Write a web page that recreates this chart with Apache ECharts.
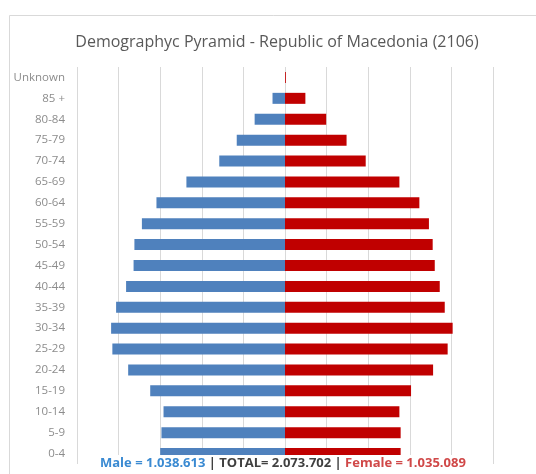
<!DOCTYPE html>
<html>
<head>
<meta charset="utf-8">
<script src="https://cdn.jsdelivr.net/npm/echarts@6/dist/echarts.min.js"></script>
<style>
  html, body { margin: 0; padding: 0; background: #fff; }
  #chart { width: 536px; height: 474px; }
</style>
</head>
<body>
<div id="chart"></div>
<script>
// age groups, top of the pyramid first
const ageGroups = ['Unknown', '85 +', '80-84', '75-79', '70-74', '65-69', '60-64', '55-59', '50-54',
  '45-49', '40-44', '35-39', '30-34', '25-29', '20-24', '15-19', '10-14', '5-9', '0-4'];

// population in thousands
const male = [0, 6.0, 14.6, 23.2, 31.6, 47.4, 61.8, 68.8, 72.4,
  72.8, 76.4, 81.2, 83.6, 83.0, 75.4, 64.8, 58.4, 59.4, 60.0];
const female = [0.4, 9.8, 19.8, 29.6, 38.8, 55.0, 64.6, 69.2, 71.0,
  72.0, 74.4, 76.8, 80.6, 78.2, 71.2, 60.6, 55.0, 55.6, 55.6];

const totals = { male: '1.038.613', total: '2.073.702', female: '1.035.089' };

const chart = echarts.init(document.getElementById('chart'), null, { renderer: 'canvas' });

const font = 'Open Sans';

const option = {
  backgroundColor: '#fff',
  animation: false,
  title: {
    text: 'Demographyc Pyramid - Republic of Macedonia (2106)',
    left: 272,
    textAlign: 'center',
    top: 29,
    textStyle: { fontFamily: font, fontSize: 16, fontWeight: 'normal', color: '#595959' }
  },
  grid: { left: 77, right: 43, top: 67, bottom: 10 },
  xAxis: {
    type: 'value',
    min: -100,
    max: 100,
    interval: 20,
    axisLabel: { show: false },
    axisLine: { show: false },
    axisTick: { show: false },
    splitLine: { lineStyle: { color: '#d9d9d9', width: 1 } }
  },
  yAxis: {
    type: 'category',
    inverse: true,
    data: ageGroups,
    axisLine: { show: false },
    axisTick: { show: false },
    axisLabel: { fontFamily: font, fontSize: 11.5, color: '#8c8c8c', margin: 12 }
  },
  series: [
    {
      name: 'Male',
      type: 'bar',
      barWidth: 11,
      barGap: '-100%',
      itemStyle: { color: '#4f81bd' },
      data: male.map(v => -v)
    },
    {
      name: 'Female',
      type: 'bar',
      barWidth: 11,
      itemStyle: { color: '#c00000' },
      data: female
    }
  ],
  graphic: [
    {
      // chart border, only top and left edges fall inside the picture
      type: 'rect',
      shape: { x: 9.5, y: 15.5, width: 700, height: 700 },
      style: { fill: null, stroke: '#d9d9d9', lineWidth: 1 }
    },
    {
      // white text box at the bottom, sits over the last bar
      type: 'rect',
      z: 100,
      shape: { x: 96, y: 455, width: 384, height: 19 },
      style: { fill: '#fff' }
    },
    {
      type: 'text',
      z: 101,
      left: 100,
      top: 457,
      style: {
        text: '{m|Male = ' + totals.male + '} {t|| TOTAL= ' + totals.total + ' |} {f|Female = ' + totals.female + '}',
        rich: {
          m: { fontFamily: font, fontSize: 13, fontWeight: 'bold', fill: '#3a8ad2' },
          t: { fontFamily: font, fontSize: 13, fontWeight: 'bold', fill: '#404040' },
          f: { fontFamily: font, fontSize: 13, fontWeight: 'bold', fill: '#d04848' }
        }
      }
    }
  ]
};

chart.setOption(option);
</script>
</body>
</html>
